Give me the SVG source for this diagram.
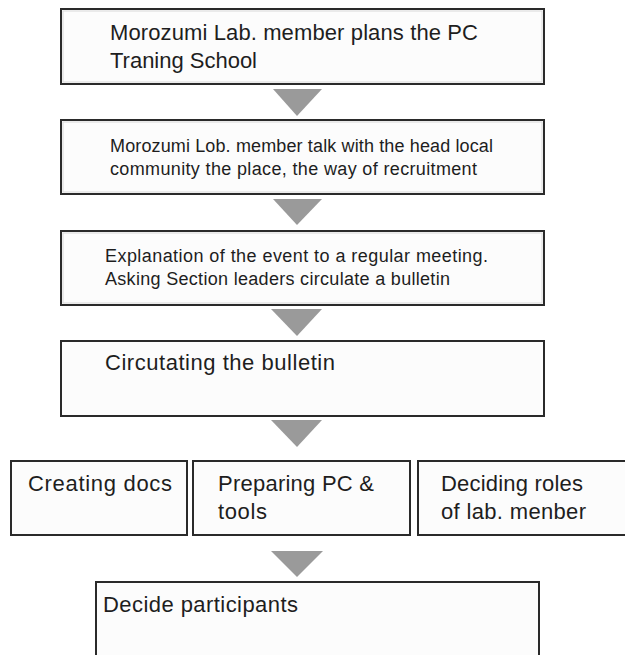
<svg xmlns="http://www.w3.org/2000/svg" width="625" height="655" viewBox="0 0 625 655">
  <style>
    .box { fill: #fcfcfc; stroke: #2a2a2a; stroke-width: 2; }
    .inner { fill: none; stroke: #d8d8d8; stroke-width: 1; }
    .arrow { fill: #9a9a9a; }
    text { font-family: "Liberation Sans", Arial, sans-serif; fill: #1e1e1e; }
    .lg { font-size: 22px; }
    .sm { font-size: 18px; }
  </style>
  <rect width="625" height="655" fill="#ffffff"/>

  <!-- flow arrows between steps -->
  <g id="connectors">
    <polygon class="arrow" points="273,89 322,89 297,116"/>
    <polygon class="arrow" points="273,199 322,199 297,225"/>
    <polygon class="arrow" points="271,309 322,309 297,336"/>
    <polygon class="arrow" points="271,420 322,420 297,447"/>
    <polygon class="arrow" points="271,551 323,551 297,577"/>
  </g>

  <g id="step-plan">
    <rect class="box" x="61" y="9" width="483" height="75"/>
    <rect class="inner" x="63" y="11" width="479" height="71"/>
    <text class="lg" x="110" y="40" textLength="368">Morozumi Lab. member plans the PC</text>
    <text class="lg" x="110" y="68" textLength="147">Traning School</text>
  </g>

  <g id="step-talk">
    <rect class="box" x="61" y="120" width="483" height="74"/>
    <rect class="inner" x="63" y="122" width="479" height="70"/>
    <text class="sm" x="110" y="152" textLength="383">Morozumi Lob. member talk with the head local</text>
    <text class="sm" x="110" y="175" textLength="367">community the place, the way of recruitment</text>
  </g>

  <g id="step-explain">
    <rect class="box" x="61" y="231" width="483" height="74"/>
    <rect class="inner" x="63" y="233" width="479" height="70"/>
    <text class="sm" x="105" y="262" textLength="383">Explanation of the event to a regular meeting.</text>
    <text class="sm" x="105" y="285" textLength="345">Asking Section leaders circulate a bulletin</text>
  </g>

  <g id="step-circulate">
    <rect class="box" x="61" y="341" width="483" height="75"/>
    <text class="lg" x="105" y="370" textLength="230">Circutating the bulletin</text>
  </g>

  <g id="task-docs">
    <rect class="box" x="11" y="461" width="176" height="74"/>
    <text class="lg" x="28" y="491" textLength="144">Creating docs</text>
  </g>

  <g id="task-pc">
    <rect class="box" x="193" y="461" width="217" height="74"/>
    <text class="lg" x="218" y="491" textLength="156">Preparing PC &amp;</text>
    <text class="lg" x="218" y="519" textLength="49">tools</text>
  </g>

  <g id="task-roles">
    <rect class="box" x="418" y="461" width="212" height="74"/>
    <text class="lg" x="441" y="491" textLength="142">Deciding roles</text>
    <text class="lg" x="441" y="519" textLength="145">of lab. menber</text>
  </g>

  <g id="step-participants">
    <rect class="box" x="96" y="582" width="443" height="80"/>
    <text class="lg" x="103" y="612" textLength="195">Decide participants</text>
  </g>
</svg>
